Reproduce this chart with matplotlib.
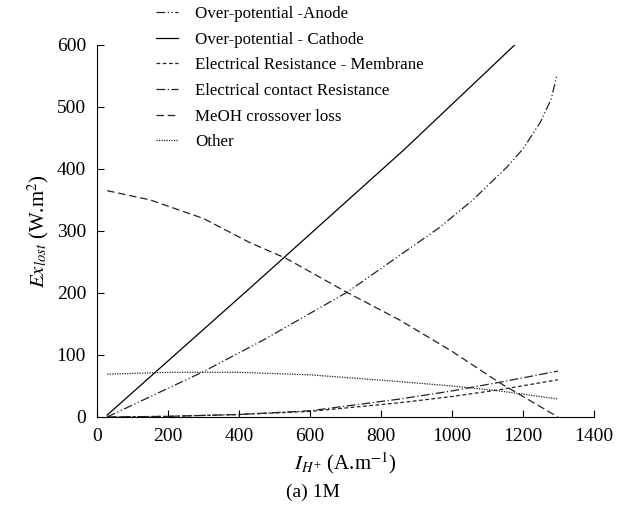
import matplotlib
matplotlib.use("Agg")
import matplotlib.pyplot as plt

plt.rcParams['font.family'] = ['Liberation Serif', 'DejaVu Serif']
plt.rcParams['mathtext.fontset'] = 'stix'

# Data (current density, exergy loss)
anode_x = [28, 299, 468, 704, 966, 1059, 1155, 1200, 1250, 1280, 1296]
anode_y = [0, 73, 124, 201, 306, 350, 403, 432, 476, 513, 551]

cathode_x = [28, 431, 865, 1177]
cathode_y = [3, 208, 431, 600]

membrane_x = [28, 200, 400, 600, 854, 1000, 1135, 1299]
membrane_y = [0, 1, 4, 9, 23, 33, 44, 60]

contact_x = [28, 200, 400, 600, 854, 1000, 1135, 1299]
contact_y = [0, 1, 4, 10, 29, 42, 56, 74]

meoh_x = [28, 150, 300, 431, 532, 704, 854, 1000, 1135, 1299]
meoh_y = [365, 350, 320, 281, 256, 201, 156, 106, 55, 0]

other_x = [28, 200, 400, 600, 854, 1000, 1135, 1299]
other_y = [69, 72, 72, 68, 57, 50, 42, 29]

fig = plt.figure(figsize=(6.27, 5.11), dpi=100)
ax = fig.add_axes([0.155, 0.184, 0.792, 0.728])

ax.plot(anode_x, anode_y, color='#222222', lw=0.9, ls=(0, (7, 2, 1, 2, 1, 2)), label='Over-potential -Anode')
ax.plot(cathode_x, cathode_y, color='black', lw=0.9, ls='-', label='Over-potential - Cathode')
ax.plot(membrane_x, membrane_y, color='#222222', lw=0.9, ls=(0, (3, 2)), label='Electrical Resistance - Membrane')
ax.plot(contact_x, contact_y, color='#222222', lw=0.9, ls=(0, (7, 2, 1, 2)), label='Electrical contact Resistance')
ax.plot(meoh_x, meoh_y, color='#222222', lw=0.9, ls=(0, (6, 3)), label='MeOH crossover loss')
ax.plot(other_x, other_y, color='#222222', lw=0.9, ls=(0, (1, 1)), label='Other')

ax.set_xlim(0, 1400)
ax.set_ylim(0, 600)
ax.set_xticks(range(0, 1401, 200))
ax.set_yticks(range(0, 601, 100))
ax.spines['top'].set_visible(False)
ax.spines['right'].set_visible(False)
ax.tick_params(direction='in', length=5, labelsize=14, pad=8)

ax.set_xlabel(r'$I_{H^{+}}$ (A.m$^{\mathrm{-1}}$)', fontsize=15, labelpad=4)
ax.set_ylabel(r'$Ex_{lost}$ (W.m$^{\mathrm{2}}$)', fontsize=15, labelpad=4)
fig.text(0.5, 0.028, '(a) 1M', ha='center', fontsize=14)

fig.legend(loc='upper left', bbox_to_anchor=(0.225, 1.018), frameon=False,
           fontsize=12.2, handlelength=1.3, labelspacing=0.57, handletextpad=1.0)

fig.savefig('out.png', dpi=100)
